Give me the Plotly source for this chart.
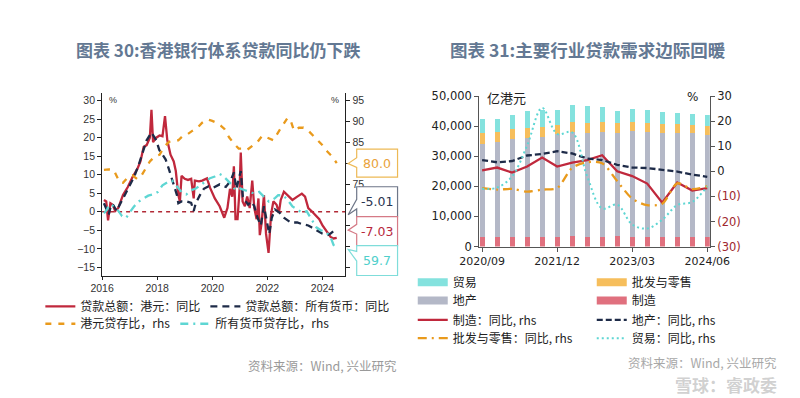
import plotly.graph_objects as go

# ================= LEFT CHART DATA (months since 2016-01) =================
m_hkd_loan = [0.8,1.8,2.6,3.6,4.6,5.7,7.0,9.1,11.2,13.2,15.3,16.7,18.1,19.4,20.8,21.5,22.2,23.6,25.0,26.3,
              27.4,28.4,29.8,31.2,32.1,33.2,33.9,34.6,36.0,37.4,38.8,39.9,40.4,42.2,43.6,45.7,47.0,49.1,51.2,53.2,
              54.6,55.7,56.7,57.4,58.1,59.0,59.9,60.4,61.2,62.2,63.2,64.3,65.4,66.3,67.3,68.1,68.7,69.5,70.5,71.4,
              72.5,73.6,74.6,76.0,77.0,77.8,79.2,80.8,82.9,85.0,87.0,88.4,89.8,91.2,93.3,94.6,96.0,98.1,99.5,100.8,102.2]
v_hkd_loan = [3.2,2.8,-2.3,2.3,1.9,0.2,1.0,4.5,6.7,9.3,11.5,13.6,17.5,18.0,20.0,27.5,18.8,20.0,20.6,20.4,
              25.8,19.3,15.4,13.6,11.0,4.5,2.8,9.7,8.9,8.6,8.9,3.6,8.4,8.2,8.4,9.0,6.5,3.6,1.5,-1.6,
              1.0,6.2,4.1,12.3,-2.0,-2.0,6.2,16.0,2.8,1.5,4.1,1.0,8.4,1.0,-2.0,3.6,-6.3,-2.9,4.5,-5.9,
              -11.1,-0.7,2.8,1.9,-0.3,3.2,5.4,4.5,3.2,4.1,4.9,4.1,1.0,0.2,-1.1,-2.0,-3.7,-5.5,-6.8,-7.2,-7.03]

m_all_loan = [0.8,2.2,2.9,4.0,5.0,6.3,7.7,9.8,11.9,14.0,16.0,18.1,19.4,21.5,23.6,24.9,26.3,27.7,29.1,30.8,
              32.6,33.2,34.6,36.7,38.8,39.9,40.8,42.6,44.3,46.4,48.4,51.2,53.9,56.0,57.4,58.5,59.5,60.4,61.3,62.2,
              63.6,65.0,66.3,67.7,69.1,70.5,71.9,72.8,73.9,75.3,77.4,79.2,82.2,85.0,87.0,89.8,91.2,93.3,96.0,98.1,
              99.5,100.8,102.2]
v_all_loan = [2.3,0.2,-0.7,2.1,1.7,0.2,1.9,4.5,6.7,9.5,12.8,17.1,19.3,21.4,19.3,16.7,15.4,14.1,11.5,8.4,
              4.5,2.3,2.8,2.8,2.4,0.2,2.3,4.5,6.2,6.9,6.5,7.4,6.7,8.4,10.6,6.2,8.4,11.0,4.0,3.2,
              1.9,2.8,1.5,-1.6,-3.7,1.5,-2.9,-6.0,-1.6,0.6,-0.3,-1.6,-2.9,-2.9,-3.3,-3.7,-4.2,-5.0,-5.9,-6.3,
              -5.9,-5.2,-5.01]

m_hkd_ldr = [0.8,2.9,5.0,6.3,7.7,9.1,11.2,13.2,15.3,16.7,18.8,20.8,22.9,25.0,27.0,29.1,31.2,33.2,35.3,37.4,
             39.4,41.5,43.6,45.7,47.7,49.8,51.9,53.3,55.3,57.4,59.5,60.8,62.9,65.0,67.7,69.8,71.9,74.6,76.7,78.8,
             80.8,82.2,83.6,85.7,87.7,89.8,91.9,94.0,96.0,98.1,100.2,102.2]
v_hkd_ldr = [78.4,78.5,78.4,77.1,75.4,75.3,76.6,77.1,76.2,76.6,78.5,80.4,81.6,82.0,83.9,85.1,85.5,85.5,86.6,87.0,
             87.8,88.5,89.7,90.5,90.2,89.7,88.9,88.2,86.2,84.7,83.5,83.5,83.1,83.9,85.1,86.6,86.2,85.5,87.4,89.3,
             90.9,90.1,87.8,88.5,88.5,87.8,86.6,85.5,84.3,82.8,81.6,80.0]

m_all_ldr = [0.8,2.2,2.9,4.3,5.7,7.0,8.7,10.5,11.9,13.9,16.0,18.1,20.1,22.2,24.3,26.3,28.4,30.5,32.6,34.6,
             36.7,38.8,40.8,42.9,45.0,47.0,49.1,51.2,52.6,54.6,56.7,58.1,60.2,62.2,64.3,66.4,68.4,69.8,71.2,72.6,
             74.0,75.3,76.7,78.8,80.8,82.9,85.0,87.0,89.1,91.2,93.3,95.3,97.4,99.5,100.8,101.8]
v_all_ldr = [68.0,68.9,70.0,69.9,69.3,68.6,67.3,66.9,68.1,69.6,70.8,71.6,72.2,72.5,73.1,74.7,75.4,75.8,74.3,73.1,
             72.5,73.5,73.9,74.7,75.6,76.4,76.8,77.4,77.0,75.8,74.7,73.5,73.9,73.5,73.1,72.7,73.1,72.3,71.6,70.8,
             71.2,71.6,72.3,72.3,71.2,69.6,68.9,68.1,68.5,66.6,64.6,63.9,63.5,62.3,60.4,59.7]

left_xticks = [2016, 2018, 2020, 2022, 2024]
left_yticks = [-15, -10, -5, 0, 5, 10, 15, 20, 25, 30]
right_yticks = [55, 60, 65, 70, 75, 80, 85, 90, 95]
right_yticks_shown = [75, 85, 90, 95]   # the others sit behind the value callouts

# ================= RIGHT CHART DATA =================
quarters = ["2020/09","2020/12","2021/03","2021/06","2021/09","2021/12","2022/03","2022/06",
            "2022/09","2022/12","2023/03","2023/06","2023/09","2023/12","2024/03","2024/06"]
manufacturing = [3200,3200,3200,3200,3200,3200,3400,3300,3300,3500,3300,3300,3200,3200,3200,3100]
real_estate   = [31000,31400,32400,32800,33100,34200,34700,34500,34600,34100,35100,34800,34400,34400,34400,34000]
wholesale     = [3400,3500,3300,3300,3300,3100,3300,3400,3400,3400,3000,3000,3000,3200,2900,3100]
trade         = [4700,4300,4800,5600,5700,4700,5500,5500,4900,4100,4200,4200,4000,3600,3600,3600]

manu_yoy      = [0.4,1.5,-0.5,1.9,5.5,1.9,3.5,4.5,6.4,0.0,-1.9,-4.9,-12.5,-4.5,-7.7,-6.7]
estate_yoy    = [4.5,3.6,4.1,6.3,6.9,8.0,7.1,5.1,4.5,2.6,1.5,1.3,0.6,-0.1,-1.3,-2.2]
wholesale_yoy = [-6.7,-7.3,-7.0,-8.1,-7.3,-6.7,1.4,3.6,3.2,-3.9,-10.9,-13.5,-12.9,-4.8,-7.1,-6.0]
trade_yoy     = [-7.0,-6.5,-2.0,10.3,25.3,14.9,15.5,-2.0,-14.8,-13.3,-21.2,-22.8,-19.3,-13.5,-12.2,-6.0]

r_left_ticks = [0, 10000, 20000, 30000, 40000, 50000]
r_right_ticks = [30, 20, 10, 0, -10, -20, -30]

# ================= helpers =================
W, H = 800, 398
def px(x):
    return x / W
def py(y):
    return 1 - y / H

RED = "#C0283C"
NAVY = "#1E2B48"
ORANGE = "#E99A1C"
CYAN = "#5ED6D3"

CJK = "Noto Sans CJK SC"
NUM = "Liberation Sans"

fig = go.Figure()

fig.add_trace(go.Scatter(x=[2016 + m / 12 for m in m_hkd_loan], y=v_hkd_loan, mode="lines",
                         name="贷款总额：港元：同比",
                         line=dict(color=RED, width=2.3), xaxis="x", yaxis="y", legend="legend"))
fig.add_trace(go.Scatter(x=[2016 + m / 12 for m in m_all_loan], y=v_all_loan, mode="lines",
                         name="贷款总额：所有货币：同比",
                         line=dict(color=NAVY, width=2.3, dash="7px,5px"), xaxis="x", yaxis="y", legend="legend"))
fig.add_trace(go.Scatter(x=[2016 + m / 12 for m in m_hkd_ldr], y=v_hkd_ldr, mode="lines",
                         name="港元贷存比，rhs",
                         line=dict(color=ORANGE, width=2.3, dash="6px,7px"), xaxis="x", yaxis="y2", legend="legend2"))
fig.add_trace(go.Scatter(x=[2016 + m / 12 for m in m_all_ldr], y=v_all_ldr, mode="lines",
                         name="所有货币贷存比，rhs",
                         line=dict(color=CYAN, width=2.3, dash="8px,5px,2px,5px"), xaxis="x", yaxis="y2", legend="legend2"))

# ---- right chart bars ----
xi = list(range(len(quarters)))
BAR_RED = "#E0707E"
BAR_GREY = "#B4B8C7"
BAR_ORANGE = "#F6BE5C"
BAR_CYAN = "#84E2DE"
for vals, col, nm in [(manufacturing, BAR_RED, "制造"), (real_estate, BAR_GREY, "地产"),
                      (wholesale, BAR_ORANGE, "批发与零售"), (trade, BAR_CYAN, "贸易")]:
    fig.add_trace(go.Bar(x=xi, y=vals, marker=dict(color=col, line=dict(width=0)), width=0.34,
                         name=nm, showlegend=False, xaxis="x2", yaxis="y3", legend="legend3",
                         customdata=quarters, hovertemplate="%{customdata}: %{y}<extra>" + nm + "</extra>"))

# legend proxies for bars (wide swatches)
for nm, col, lg in [("贸易", BAR_CYAN, "legend3"), ("批发与零售", BAR_ORANGE, "legend3"),
                    ("地产", BAR_GREY, "legend4"), ("制造", BAR_RED, "legend4")]:
    fig.add_trace(go.Scatter(x=[None], y=[None], mode="lines", name=nm, line=dict(color=col, width=8),
                             xaxis="x2", yaxis="y3", legend=lg))

fig.add_trace(go.Scatter(x=xi, y=manu_yoy, mode="lines", name="制造：同比, rhs",
                         line=dict(color=RED, width=2.3), xaxis="x2", yaxis="y4", legend="legend5"))
fig.add_trace(go.Scatter(x=xi, y=estate_yoy, mode="lines", name="地产：同比, rhs",
                         line=dict(color=NAVY, width=2.3, dash="6px,3px"), xaxis="x2", yaxis="y4", legend="legend5"))
fig.add_trace(go.Scatter(x=xi, y=wholesale_yoy, mode="lines", name="批发与零售：同比, rhs",
                         line=dict(color=ORANGE, width=2.3, dash="9px,5px,2px,5px", shape="spline", smoothing=0.8),
                         xaxis="x2", yaxis="y4", legend="legend6"))
fig.add_trace(go.Scatter(x=xi, y=trade_yoy, mode="lines", name="贸易：同比, rhs",
                         line=dict(color=CYAN, width=2, dash="2px,3px", shape="spline", smoothing=1.0),
                         xaxis="x2", yaxis="y4", legend="legend6"))

# ---- axes ----
ax_common = dict(showgrid=False, zeroline=False, showline=True, ticks="outside", ticklen=4)
l_y0, l_y1 = -17.2, 32.1
def l2r(v):
    return 55 + (v + 15) * 40 / 45

fig.update_layout(
    width=W, height=H, margin=dict(l=0, r=0, t=0, b=0),
    paper_bgcolor="white", plot_bgcolor="white",
    showlegend=True,
    xaxis=dict(domain=[px(78), px(334)], range=[2016, 2016 + 256 / 29], tickvals=left_xticks,
               anchor="y", linecolor="#222", tickcolor="#222", linewidth=1, ticklen=3,
               tickfont=dict(family=NUM, size=10.5, color="#333"),
               showgrid=False, zeroline=False, showline=True, ticks="outside"),
    yaxis=dict(domain=[py(270), py(80.7)], range=[l_y0, l_y1], tickvals=left_yticks,
               anchor="x", linecolor="#222", tickcolor="#222", linewidth=1,
               tickfont=dict(family=NUM, size=10.5, color="#333"), **ax_common),
    yaxis2=dict(overlaying="y", side="right", anchor="x", range=[l2r(l_y0), l2r(l_y1)], tickvals=right_yticks,
                ticktext=[str(v) if v in right_yticks_shown else "" for v in right_yticks],
                linecolor="#222", tickcolor="#222", linewidth=1,
                tickfont=dict(family=NUM, size=10.5, color="#333"), **ax_common),
    xaxis2=dict(domain=[px(475), px(717.7)], range=[-0.19, 15.17], tickvals=[0, 5, 10, 15],
                ticktext=[quarters[i] for i in (0, 5, 10, 15)], anchor="y3",
                linecolor="#555", tickcolor="#555", linewidth=1.2,
                tickfont=dict(family="DejaVu Sans", size=11, color="#222"), **ax_common),
    yaxis3=dict(domain=[py(240), py(84)], range=[0, 50000], tickvals=r_left_ticks, tickformat=",",
                anchor="x2", linecolor="#555", tickcolor="#555", linewidth=1.2,
                tickfont=dict(family="DejaVu Sans", size=11.5, color="#222"), **ax_common),
    yaxis4=dict(overlaying="y3", side="right", anchor="x2", range=[-30, 30], tickvals=r_right_ticks,
                ticktext=[(str(v) if v >= 0 else '<span style="color:#A0282E">(' + str(-v) + ')</span>')
                          for v in r_right_ticks],
                linecolor="#555", tickcolor="#555", linewidth=1.2,
                tickfont=dict(family="DejaVu Sans", size=11.5, color="#222"), **ax_common),
    barmode="stack",
)

leg_common = dict(orientation="h", bgcolor="rgba(0,0,0,0)", borderwidth=0, xanchor="left", yanchor="middle",
                  traceorder="normal", itemclick=False, itemdoubleclick=False, tracegroupgap=0)
LFONT_L = dict(family=CJK, size=12, color="#222")
LFONT_R = dict(family=CJK, size=12, color="#222")
fig.update_layout(
    legend=dict(x=px(13), y=py(302), font=LFONT_L, **leg_common),
    legend2=dict(x=px(13), y=py(320), font=LFONT_L, **leg_common),
    legend3=dict(x=px(405), y=py(277), entrywidth=134, font=LFONT_R, **leg_common),
    legend4=dict(x=px(405), y=py(296), entrywidth=134, font=LFONT_R, **leg_common),
    legend5=dict(x=px(405), y=py(316), entrywidth=134, font=LFONT_R, **leg_common),
    legend6=dict(x=px(405), y=py(335), entrywidth=134, font=LFONT_R, **leg_common),
)

# ---- shapes: zero line + callouts ----
shapes = [dict(type="line", xref="x", yref="y", x0=2016, x1=2016 + 256 / 29, y0=0, y1=0,
               line=dict(color="#B22A36", width=1.5, dash="4px,4px"), layer="below")]

def callout(box, base, tip, color):
    x0, x1, y0, y1 = box
    b0, b1 = base
    tx, ty = tip
    pts = [(x0, y0), (x1, y0), (x1, y1), (x0, y1), (x0, b1), (tx, ty), (x0, b0)]
    path = "M " + " L ".join(f"{px(a):.5f},{py(b):.5f}" for a, b in pts) + " Z"
    return dict(type="path", xref="paper", yref="paper", path=path,
                fillcolor="white", line=dict(color=color, width=1.2), layer="above")

callouts = [
    ("80.0", (346, 389, 139, 168), (148, 158), (337, 154), "#EDB955", "#E9A23A"),
    ("-5.01", (346, 389, 178, 209), (191, 201), (337, 207), "#6E7688", "#2A3550"),
    ("-7.03", (346, 389, 209, 239), (217, 227), (337, 223), "#D57A86", "#B8283C"),
    ("59.7", (346, 389, 239, 270), (245, 255), (337, 243), "#7FDDDA", "#4FCFCB"),
]
annotations = []
for txt, box, base, tip, bcol, tcol in callouts:
    shapes.append(callout(box, base, tip, bcol))
    annotations.append(dict(xref="paper", yref="paper", x=px((box[0] + box[1]) / 2), y=py((box[2] + box[3]) / 2),
                            text=txt, showarrow=False, xanchor="center", yanchor="middle",
                            font=dict(family="DejaVu Sans", size=12.5, color=tcol)))

TITLE_COL = "#637893"
annotations += [
    dict(xref="paper", yref="paper", x=px(200.5), y=py(36), text="<b>图表 30:香港银行体系贷款同比仍下跌</b>",
         showarrow=False, xanchor="center", yanchor="middle", font=dict(family=CJK, size=17, color=TITLE_COL)),
    dict(xref="paper", yref="paper", x=px(589.5), y=py(36), text="<b>图表 31:主要行业贷款需求边际回暖</b>",
         showarrow=False, xanchor="center", yanchor="middle", font=dict(family=CJK, size=17.5, color=TITLE_COL)),
    dict(xref="paper", yref="paper", x=px(83), y=py(88), text="%", showarrow=False, xanchor="left",
         yanchor="middle", font=dict(family=NUM, size=9, color="#333")),
    dict(xref="paper", yref="paper", x=px(329), y=py(88), text="%", showarrow=False, xanchor="right",
         yanchor="middle", font=dict(family=NUM, size=9, color="#333")),
    dict(xref="paper", yref="paper", x=px(481), y=py(85), text="亿港元", showarrow=False, xanchor="left",
         yanchor="middle", font=dict(family=CJK, size=13, color="#222")),
    dict(xref="paper", yref="paper", x=px(707), y=py(85), text="%", showarrow=False, xanchor="right",
         yanchor="middle", font=dict(family="DejaVu Sans", size=12, color="#222")),
    dict(xref="paper", yref="paper", x=px(390), y=py(363), text="资料来源：Wind, 兴业研究", showarrow=False,
         xanchor="right", yanchor="middle", font=dict(family=CJK, size=12.5, color="#9A9A9A")),
    dict(xref="paper", yref="paper", x=px(790), y=py(360), text="资料来源：Wind, 兴业研究", showarrow=False,
         xanchor="right", yanchor="middle", font=dict(family=CJK, size=12.5, color="#A8A8A8")),
    dict(xref="paper", yref="paper", x=px(790), y=py(383), text="<b>雪球：睿政委</b>", showarrow=False,
         xanchor="right", yanchor="middle", font=dict(family=CJK, size=17, color="rgba(170,170,170,0.55)")),
]

fig.update_layout(shapes=shapes, annotations=annotations)
fig.write_html("out.html")
